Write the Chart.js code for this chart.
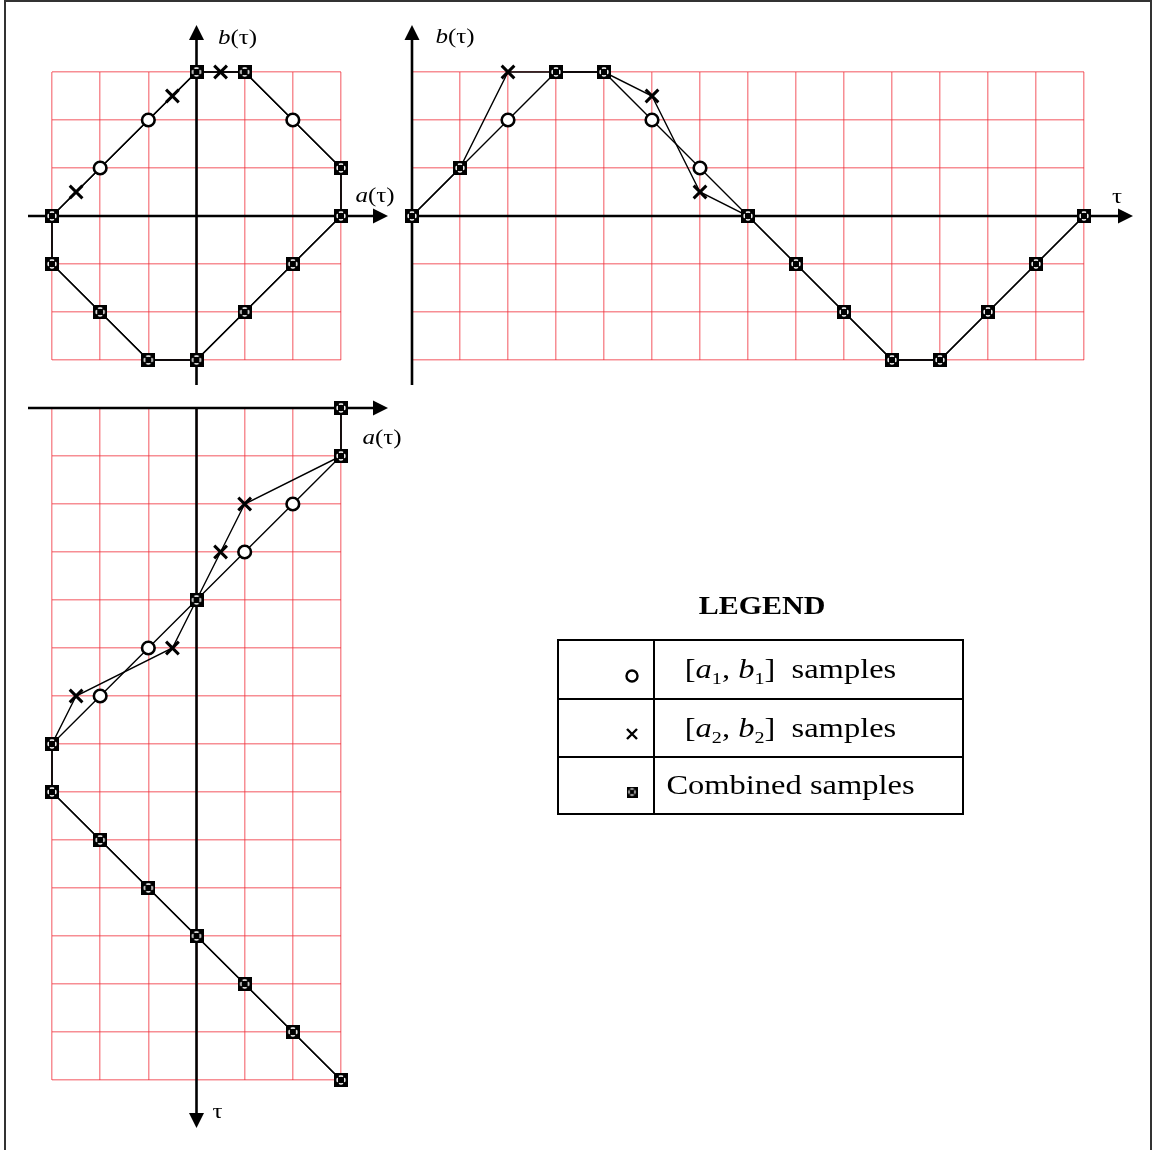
<!DOCTYPE html>
<html>
<head>
<meta charset="utf-8">
<script src="https://cdn.jsdelivr.net/npm/chart.js@4.4.1/dist/chart.umd.min.js"></script>
<style>
  html, body { margin: 0; padding: 0; background: #fff; }
  #page { position: relative; width: 1152px; height: 1150px; overflow: hidden;
          font-family: "Liberation Serif", "Times New Roman", serif; color: #000; }
  #page canvas.panel { position: absolute; left: 0; top: 0; }
  #frame { position: absolute; left: 4px; top: 0; width: 1144px; height: 1150px;
           border: 2px solid #333; border-bottom: none; }
  #legendTitle { position: absolute; left: 662px; top: 590px; width: 200px; text-align: center;
                 font-weight: bold; font-size: 30px; line-height: 30px; }
  #legend { position: absolute; left: 557px; top: 639px; width: 407px; table-layout: fixed;
            border-collapse: collapse; font-size: 32.5px; }
  #legend td { border: 2px solid #000; padding: 0; }
  #legend tr.r1 td { height: 57px; }
  #legend tr.r2 td { height: 56px; }
  #legend tr.r3 td { height: 55px; }
  #legend td.sym { text-align: right; padding-right: 12px; }
  #legend td.sym canvas { vertical-align: middle; position: relative; top: 3px; }
  #legend td.txt { text-align: center; padding-right: 36px; }
  .squash { display: inline-block; transform: scaleY(0.85); white-space: nowrap; }
  sub { font-size: 0.62em; vertical-align: -0.32em; line-height: 0; }
</style>
</head>
<body>
<div id="page">
  <div id="frame"></div>
  <canvas class="panel" id="phase" width="1152" height="1150"></canvas>
  <canvas class="panel" id="bWave" width="1152" height="1150"></canvas>
  <canvas class="panel" id="aWave" width="1152" height="1150"></canvas>

  <div id="legendTitle"><span class="squash">LEGEND</span></div>
  <table id="legend">
    <colgroup><col style="width:96px"><col></colgroup>
    <tr class="r1"><td class="sym"><canvas id="sym1" width="18" height="18"></canvas></td>
      <td class="txt"><span class="squash">[<i>a</i><sub>1</sub>, <i>b</i><sub>1</sub>]&nbsp;&nbsp;samples</span></td></tr>
    <tr class="r2"><td class="sym"><canvas id="sym2" width="18" height="18"></canvas></td>
      <td class="txt"><span class="squash">[<i>a</i><sub>2</sub>, <i>b</i><sub>2</sub>]&nbsp;&nbsp;samples</span></td></tr>
    <tr class="r3"><td class="sym"><canvas id="sym3" width="18" height="18"></canvas></td>
      <td class="txt"><span class="squash">Combined samples</span></td></tr>
  </table>
</div>

<script>
/* ---------- sample values ---------- */
const tau = [0, 1, 2, 3, 4, 5, 6, 7, 8, 9, 10, 11, 12, 13, 14];
const a1 = [3, 3, 2, 1, 0, -1, -2, -3, -3, -2, -1, 0, 1, 2, 3];
const b1 = [0, 1, 2, 3, 3, 2, 1, 0, -1, -2, -3, -3, -2, -1, 0];
const a2 = [3, 3, 1, 0.5, 0, -0.5, -2.5, -3, -3, -2, -1, 0, 1, 2, 3];
const b2 = [0, 1, 3, 3, 3, 2.5, 0.5, 0, -1, -2, -3, -3, -2, -1, 0];
const ampRange = [-3, 3];
const tauRange = [0, 14];

const W = 1152, H = 1150;
const GRID = "rgba(240, 50, 60, 0.55)";
const FONT = '"Liberation Serif", "Times New Roman", serif';

/* ---------- marker for coinciding samples: boxed circle with a cross ---------- */
function makeCombined(size) {
  const c = document.createElement("canvas");
  c.width = c.height = size;
  const g = c.getContext("2d");
  const s = size / 14;
  g.scale(s, s);
  g.fillStyle = "#000";
  g.fillRect(0, 0, 14, 14);
  g.strokeStyle = "#fff";
  g.lineWidth = 1.5;
  g.beginPath();
  g.arc(7, 7, 3.9, 0, Math.PI * 2);
  g.stroke();
  g.strokeStyle = "#000";
  g.lineWidth = 1.9;
  g.beginPath();
  g.moveTo(1, 1); g.lineTo(13, 13);
  g.moveTo(13, 1); g.lineTo(1, 13);
  g.stroke();
  return c;
}
const combinedImg = makeCombined(14);

/* ---------- split points into circle / cross / combined ---------- */
function splitMarkers(p1, p2) {
  const same = (p, q) => p.x === q.x && p.y === q.y;
  return {
    both: p1.filter(p => p2.some(q => same(p, q))),
    only1: p1.filter(p => !p2.some(q => same(p, q))),
    only2: p2.filter(q => !p1.some(p => same(p, q))),
  };
}

function makeDatasets(p1, p2) {
  const m = splitMarkers(p1, p2);
  const line = { showLine: true, pointRadius: 0, borderColor: "#000", borderWidth: 1.4, fill: false, clip: false, order: 2 };
  return [
    { data: m.both, pointStyle: combinedImg, pointRadius: 7, clip: false, order: 1 },
    { data: m.only1, pointStyle: "circle", pointRadius: 6.3, pointBorderWidth: 2.6,
      pointBackgroundColor: "#fff", pointBorderColor: "#000", clip: false, order: 1 },
    { data: m.only2, pointStyle: "crossRot", pointRadius: 9, pointBorderWidth: 3,
      pointBorderColor: "#000", clip: false, order: 1 },
    Object.assign({ data: p1 }, line),
    Object.assign({ data: p2 }, line),
  ];
}

/* ---------- axes with arrow heads + labels ---------- */
function arrow(ctx, x1, y1, x2, y2) {
  const ang = Math.atan2(y2 - y1, x2 - x1);
  const L = 15, hw = 7.5;
  const c = Math.cos(ang), s = Math.sin(ang);
  ctx.beginPath();
  ctx.moveTo(x1, y1);
  ctx.lineTo(x2 - L * c, y2 - L * s);
  ctx.stroke();
  ctx.beginPath();
  ctx.moveTo(x2, y2);
  ctx.lineTo(x2 - L * c + hw * s, y2 - L * s - hw * c);
  ctx.lineTo(x2 - L * c - hw * s, y2 - L * s + hw * c);
  ctx.closePath();
  ctx.fill();
}

function label(ctx, italicPart, plainPart, cx, cy) {
  ctx.save();
  ctx.translate(cx, cy);
  ctx.scale(1, 0.87);
  ctx.textBaseline = "middle";
  ctx.font = "italic 25px " + FONT;
  const w1 = italicPart ? ctx.measureText(italicPart).width : 0;
  ctx.font = "25px " + FONT;
  const w2 = ctx.measureText(plainPart).width;
  let x = -(w1 + w2) / 2;
  if (italicPart) {
    ctx.font = "italic 25px " + FONT;
    ctx.fillText(italicPart, x, 0);
    x += w1;
  }
  ctx.font = "25px " + FONT;
  ctx.fillText(plainPart, x, 0);
  ctx.restore();
}

function axesPlugin(draw) {
  return {
    id: "axes",
    beforeDatasetsDraw(chart) {
      const ctx = chart.ctx;
      ctx.save();
      ctx.strokeStyle = "#000";
      ctx.fillStyle = "#000";
      ctx.lineWidth = 2.6;
      draw(ctx, chart.chartArea, chart.scales.x, chart.scales.y);
      ctx.restore();
    },
  };
}

function linScale(range, reverse) {
  return {
    type: "linear", min: range[0], max: range[1], reverse: !!reverse,
    ticks: { display: false, stepSize: 1, maxTicksLimit: 50 },
    grid: { color: GRID, lineWidth: 1.5, drawTicks: false },
    border: { display: false },
  };
}

function panel(id, area, p1, p2, xr, yr, yReverse, draw) {
  return new Chart(document.getElementById(id), {
    type: "scatter",
    data: { datasets: makeDatasets(p1, p2) },
    options: {
      responsive: false,
      animation: false,
      devicePixelRatio: 1,
      events: [],
      layout: { padding: { left: area.left, top: area.top, right: W - area.right, bottom: H - area.bottom } },
      scales: { x: linScale(xr), y: linScale(yr, yReverse) },
      plugins: { legend: { display: false }, tooltip: { enabled: false } },
    },
    plugins: [axesPlugin(draw)],
  });
}

/* ---------- b(τ) against a(τ) ---------- */
panel("phase", { left: 52, top: 72, right: 341, bottom: 360 },
  tau.map(i => ({ x: a1[i], y: b1[i] })),
  tau.map(i => ({ x: a2[i], y: b2[i] })),
  ampRange, ampRange, false,
  (ctx, area, x, y) => {
    const x0 = x.getPixelForValue(0), y0 = y.getPixelForValue(0);
    arrow(ctx, area.left - 24, y0, area.right + 47, y0);
    arrow(ctx, x0, area.bottom + 25, x0, area.top - 47);
    label(ctx, "b", "(τ)", x0 + 41, area.top - 34);
    label(ctx, "a", "(τ)", area.right + 34, y0 - 20);
  });

/* ---------- b(τ) over time ---------- */
panel("bWave", { left: 412, top: 72, right: 1084, bottom: 360 },
  tau.map(i => ({ x: tau[i], y: b1[i] })),
  tau.map(i => ({ x: tau[i], y: b2[i] })),
  tauRange, ampRange, false,
  (ctx, area, x, y) => {
    const x0 = x.getPixelForValue(0), y0 = y.getPixelForValue(0);
    arrow(ctx, x0 - 3, y0, area.right + 49, y0);
    arrow(ctx, x0, area.bottom + 25, x0, area.top - 47);
    label(ctx, "b", "(τ)", x0 + 43, area.top - 35);
    label(ctx, "", "τ", area.right + 33, y0 - 19);
  });

/* ---------- a(τ) with time running downward ---------- */
panel("aWave", { left: 52, top: 408, right: 341, bottom: 1080 },
  tau.map(i => ({ x: a1[i], y: tau[i] })),
  tau.map(i => ({ x: a2[i], y: tau[i] })),
  ampRange, tauRange, true,
  (ctx, area, x, y) => {
    const x0 = x.getPixelForValue(0), t0 = y.getPixelForValue(0);
    arrow(ctx, area.left - 24, t0, area.right + 47, t0);
    arrow(ctx, x0, t0, x0, area.bottom + 48);
    label(ctx, "a", "(τ)", area.right + 41, t0 + 30);
    label(ctx, "", "τ", x0 + 21, area.bottom + 32);
  });

/* ---------- legend symbols ---------- */
(function () {
  let g = document.getElementById("sym1").getContext("2d");
  g.lineWidth = 2.4;
  g.fillStyle = "#fff";
  g.beginPath(); g.arc(9, 9, 5.5, 0, Math.PI * 2); g.fill(); g.stroke();

  g = document.getElementById("sym2").getContext("2d");
  g.lineWidth = 2.4;
  g.beginPath();
  g.moveTo(4, 4); g.lineTo(14, 14);
  g.moveTo(14, 4); g.lineTo(4, 14);
  g.stroke();

  g = document.getElementById("sym3").getContext("2d");
  g.drawImage(makeCombined(11), 3.5, 3.5);
})();
</script>
</body>
</html>
